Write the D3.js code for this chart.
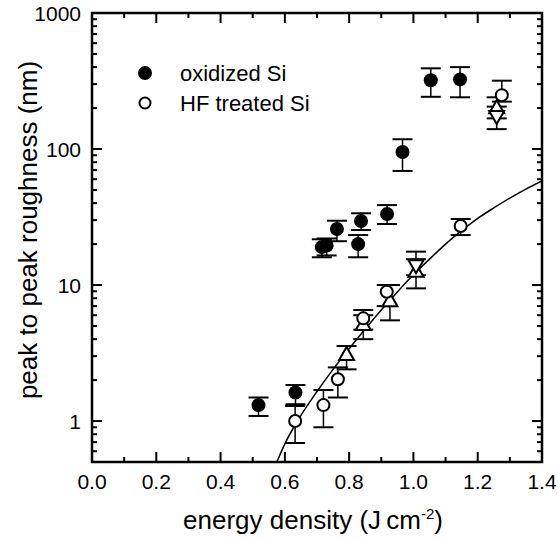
<!DOCTYPE html>
<html><head><meta charset="utf-8">
<script src="https://cdn.jsdelivr.net/npm/d3@7"></script>
<style>body{margin:0;background:#fff}svg{display:block}text{font-family:"Liberation Sans",Arial,Helvetica,sans-serif;fill:#000}</style>
</head><body><svg id="c" width="558" height="539"></svg>
<script>
// ---- data ----
const oxE  = [0.518, 0.633, 0.715, 0.730, 0.762, 0.828, 0.837, 0.918, 0.966, 1.054, 1.145];
const oxR  = [1.31, 1.62, 19.0, 19.5, 25.8, 20.0, 29.6, 33.3, 95, 320, 325];
const oxLo = [1.09, 1.33, 16.0, 16.5, 21.0, 16.0, 25.4, 28.1, 69, 242, 240];
const oxHi = [1.49, 1.84, 21.7, 22.0, 29.7, 23.3, 33.7, 38.7, 118, 392, 400];

const hfE  = [0.632, 0.720, 0.765, 0.844, 0.917, 1.147, 1.275];
const hfR  = [1.00, 1.31, 2.03, 5.69, 8.93, 27.2, 249];
const hfLo = [0.69, 0.90, 1.49, 4.70, 7.00, 23.3, 223];
const hfHi = [1.29, 1.69, 2.48, 6.55, 10.0, 30.6, 318];

const upE  = [0.792, 0.844, 0.927, 1.008, 1.259];
const upR  = [3.06, 5.08, 7.6, 12.5, 199];
const upLo = [2.40, 4.00, 5.5, 9.45, 168];
const upHi = [3.56, 6.00, 10.0, 15.5, 240];

const dnE  = [1.008, 1.259];
const dnR  = [14.0, 175];
const dnLo = [11.8, 140];
const dnHi = [17.6, 205];

const fitE = [0.575, 0.60, 0.65, 0.70, 0.75, 0.80, 0.85, 0.90, 0.95, 1.00, 1.05, 1.10, 1.15, 1.20, 1.25, 1.30, 1.35, 1.40];
const fitR = [0.50, 0.68, 1.10, 1.65, 2.40, 3.40, 4.75, 6.55, 8.9, 11.9, 15.5, 20.0, 25.1, 30.9, 36.9, 43.6, 50.7, 58.2];

const xTickVals = [0, 0.2, 0.4, 0.6, 0.8, 1.0, 1.2, 1.4];
const xMinorVals = [0.1, 0.3, 0.5, 0.7, 0.9, 1.1, 1.3];
const yTickVals = [1, 10, 100, 1000];
const yTickLabels = ["1", "10", "100", "1000"];
const legendLabels = ["oxidized Si", "HF treated Si"];

// ---- layout ----
const L = 92, R = 542, T = 13, B = 462;
const svg = d3.select("#c");
const x = d3.scaleLinear().domain([0, 1.4]).range([L, R]);
const y = d3.scaleLog().domain([0.5, 1000]).range([B, T]);

const yMinor = [];
[0.1, 1, 10, 100].forEach(d => { for (let k = 2; k <= 9; k++) { const v = d * k; if (v >= 0.5 && v < 1000) yMinor.push(v); } });

const ax = svg.append("g").attr("stroke", "#000").attr("stroke-width", 2).attr("fill", "none");
function hTicks(vals, len) {
  vals.forEach(v => {
    ax.append("line").attr("x1", x(v)).attr("x2", x(v)).attr("y1", B).attr("y2", B - len);
    ax.append("line").attr("x1", x(v)).attr("x2", x(v)).attr("y1", T).attr("y2", T + len);
  });
}
function vTicks(vals, len) {
  vals.forEach(v => {
    ax.append("line").attr("y1", y(v)).attr("y2", y(v)).attr("x1", L).attr("x2", L + len);
    ax.append("line").attr("y1", y(v)).attr("y2", y(v)).attr("x1", R).attr("x2", R - len);
  });
}
hTicks(xTickVals, 10); hTicks(xMinorVals, 5);
vTicks(yTickVals, 10); vTicks(yMinor, 5);
ax.append("rect").attr("x", L).attr("y", T).attr("width", R - L).attr("height", B - T).attr("stroke-width", 2.5);

// tick labels
svg.append("g").selectAll("text").data(xTickVals).join("text")
  .attr("x", d => x(d)).attr("y", 489).attr("text-anchor", "middle").attr("font-size", 21)
  .text(d => d.toFixed(1));
svg.append("g").selectAll("text").data(yTickVals).join("text")
  .attr("x", 81).attr("y", d => y(d) + 7.5).attr("text-anchor", "end").attr("font-size", 21)
  .text((d, i) => yTickLabels[i]);

// axis titles
const xt = svg.append("text").attr("x", 313).attr("y", 529).attr("text-anchor", "middle").attr("font-size", 26);
xt.append("tspan").text("energy density (J\u2009cm");
xt.append("tspan").attr("font-size", 15).attr("dy", -10).text("-2");
xt.append("tspan").attr("dy", 10).text(")");
svg.append("text").attr("transform", "translate(37,230) rotate(-90)").attr("text-anchor", "middle")
  .attr("font-size", 26).text("peak to peak roughness (nm)");

// fit curve
const line = d3.line().x((d, i) => x(fitE[i])).y((d, i) => y(fitR[i])).curve(d3.curveMonotoneX);
svg.append("clipPath").attr("id", "pc").append("rect").attr("x", L).attr("y", T).attr("width", R - L).attr("height", B - T);
svg.append("path").datum(fitR).attr("d", line).attr("fill", "none").attr("stroke", "#000").attr("stroke-width", 1.5).attr("clip-path", "url(#pc)");

// error bars
const eb = svg.append("g").attr("stroke", "#000").attr("fill", "none");
function errBars(E, Lo, Hi) {
  E.forEach((e, i) => {
    const cx = x(e);
    eb.append("line").attr("x1", cx).attr("x2", cx).attr("y1", y(Lo[i])).attr("y2", y(Hi[i])).attr("stroke-width", 1.5);
    eb.append("line").attr("x1", cx - 10).attr("x2", cx + 10).attr("y1", y(Lo[i])).attr("y2", y(Lo[i])).attr("stroke-width", 2);
    eb.append("line").attr("x1", cx - 10).attr("x2", cx + 10).attr("y1", y(Hi[i])).attr("y2", y(Hi[i])).attr("stroke-width", 2);
  });
}
errBars(oxE, oxLo, oxHi); errBars(hfE, hfLo, hfHi); errBars(upE, upLo, upHi); errBars(dnE, dnLo, dnHi);

// markers
const mk = svg.append("g");
mk.selectAll(".up").data(upE).join("path").attr("class", "up")
  .attr("transform", (d, i) => `translate(${x(d)},${y(upR[i])})`)
  .attr("d", "M0,-8L7.5,5L-7.5,5Z").attr("fill", "#fff").attr("stroke", "#000").attr("stroke-width", 2);
mk.selectAll(".dn").data(dnE).join("path").attr("class", "dn")
  .attr("transform", (d, i) => `translate(${x(d)},${y(dnR[i])})`)
  .attr("d", "M0,8L7.5,-5L-7.5,-5Z").attr("fill", "#fff").attr("stroke", "#000").attr("stroke-width", 2);
mk.selectAll(".hf").data(hfE).join("circle").attr("class", "hf")
  .attr("cx", d => x(d)).attr("cy", (d, i) => y(hfR[i])).attr("r", 6)
  .attr("fill", "#fff").attr("stroke", "#000").attr("stroke-width", 2);
mk.selectAll(".ox").data(oxE).join("circle").attr("class", "ox")
  .attr("cx", d => x(d)).attr("cy", (d, i) => y(oxR[i])).attr("r", 7).attr("fill", "#000");

// legend
const lg = svg.append("g");
lg.append("circle").attr("cx", 145).attr("cy", 73).attr("r", 7).attr("fill", "#000");
lg.append("circle").attr("cx", 145).attr("cy", 103).attr("r", 5.5).attr("fill", "#fff").attr("stroke", "#000").attr("stroke-width", 2);
lg.selectAll("text").data(legendLabels).join("text")
  .attr("x", 180).attr("y", (d, i) => 81 + i * 30).attr("font-size", 22).text(d => d);
</script></body></html>
